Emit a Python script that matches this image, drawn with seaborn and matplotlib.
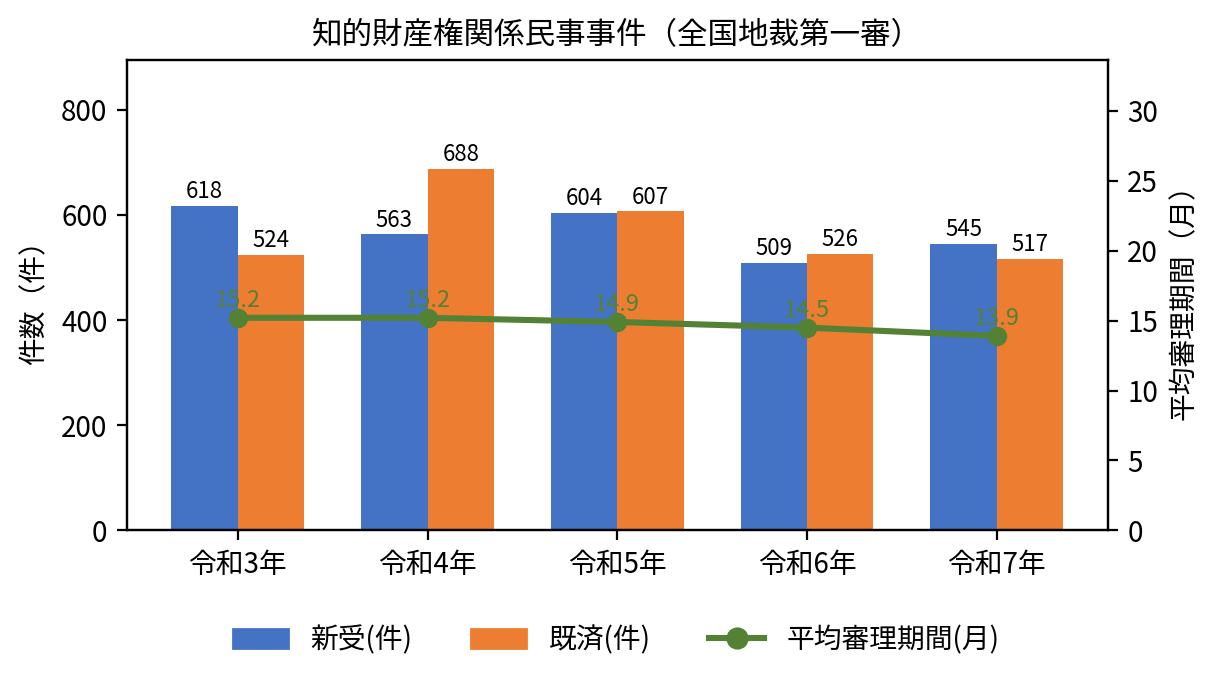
import numpy as np
import pandas as pd
import matplotlib
matplotlib.use("Agg")
import matplotlib.pyplot as plt
import seaborn as sns
from matplotlib.patches import Patch
from matplotlib.lines import Line2D

categories = ["令和3年", "令和4年", "令和5年", "令和6年", "令和7年"]
new_cases = [618, 563, 604, 509, 545]
done_cases = [524, 688, 607, 526, 517]
avg_months = [15.2, 15.2, 14.9, 14.5, 13.9]
series_names = ["新受(件)", "既済(件)", "平均審理期間(月)"]

plt.rcParams.update(matplotlib.rcParamsDefault)
plt.rcParams['font.family'] = ['Noto Sans CJK JP', 'DejaVu Sans']

blue = "#4472C4"
orange = "#ED7D31"
green = "#548235"

df = pd.DataFrame({
    "year": categories * 2,
    "value": new_cases + done_cases,
    "series": [series_names[0]] * len(categories) + [series_names[1]] * len(categories),
})

fig, ax = plt.subplots(figsize=(6.1, 3.435), dpi=200)
fig.subplots_adjust(left=0.104, right=0.908, top=0.912, bottom=0.228)

sns.barplot(data=df, x="year", y="value", hue="series", order=categories,
            palette=[blue, orange], width=0.7, gap=0, saturation=1,
            linewidth=0, ax=ax, legend=False, zorder=2)
for cont in ax.containers:
    ax.bar_label(cont, fontsize=8, padding=1)

ax.set_xlim(-0.585, len(categories) - 1 + 0.585)
ax.set_ylim(0, 894)
ax.set_yticks([0, 200, 400, 600, 800])
ax.set_xlabel("")
ax.set_ylabel("件数（件）", fontsize=10)
ax.tick_params(labelsize=10)
ax.set_title("知的財産権関係民事事件（全国地裁第一審）", fontsize=11)

ax2 = ax.twinx()
xpos = np.arange(len(categories))
sns.lineplot(x=xpos, y=avg_months, ax=ax2, color=green, linewidth=2.2,
             marker="o", markersize=7, markeredgewidth=0, zorder=3)
for x, v in zip(xpos, avg_months):
    ax2.text(x, v + 0.4, f"{v}", ha="center", va="bottom", color=green,
             fontsize=8.5, zorder=1)
ax2.set_ylim(0, 33.6)
ax2.set_yticks([0, 5, 10, 15, 20, 25, 30])
ax2.set_ylabel("平均審理期間（月）", fontsize=10)
ax2.tick_params(labelsize=10)

handles = [Patch(color=blue), Patch(color=orange),
           Line2D([], [], color=green, linewidth=2.2, marker="o", markersize=7)]
fig.legend(handles, series_names, loc="lower center", ncol=3, frameon=False,
           fontsize=10, bbox_to_anchor=(0.505, 0.01), columnspacing=2.1,
           handlelength=2.0)

fig.savefig("out.png", dpi=200)
